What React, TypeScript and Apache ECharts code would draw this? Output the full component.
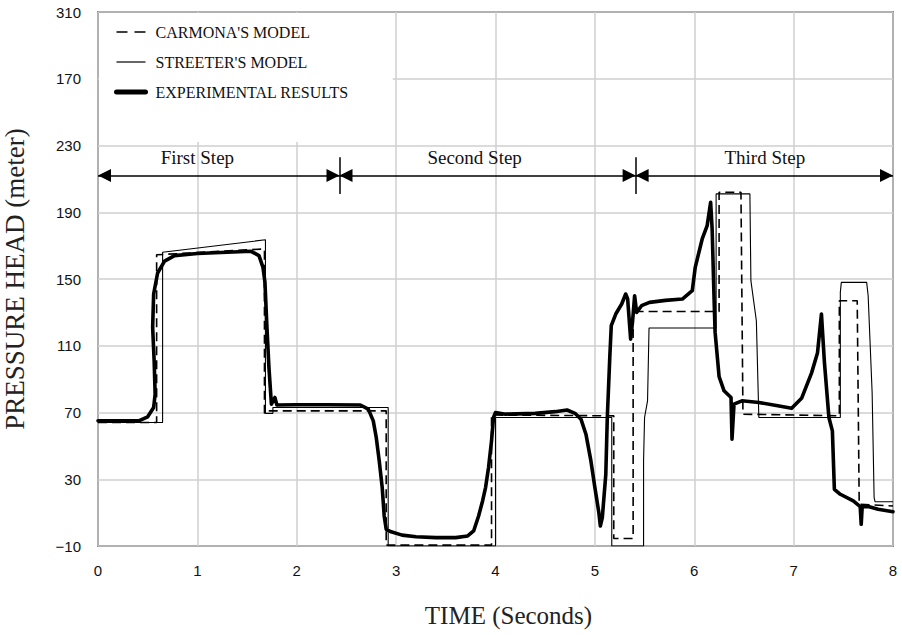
import React, { useEffect, useRef } from "react";
import * as echarts from "echarts";

// ---- data ----
const yTickLabels = ["−10", "30", "70", "110", "150", "190", "230", "170", "310"];
const seriesNames = ["CARMONA'S MODEL", "STREETER'S MODEL", "EXPERIMENTAL RESULTS"];

const carmona: [number, number][] = [
  [0, 64], [0.59, 64], [0.59, 164.5], [1.675, 168], [1.675, 69.5], [1.7, 71], [2.9, 71],
  [2.9, -9.5], [3.96, -9.5], [3.96, 68.5], [5.19, 68], [5.19, -5.5], [5.385, -5.5],
  [5.385, 130.5], [6.25, 130.5], [6.25, 202], [6.47, 202], [6.49, 69], [7.46, 68],
  [7.46, 137], [7.64, 137], [7.66, 15], [8, 14],
];

const streeter: [number, number][] = [
  [0, 64], [0.65, 64], [0.65, 166], [1.685, 173.5], [1.685, 69.5], [1.76, 69.5], [1.76, 73],
  [2.92, 73], [2.92, -10], [4.0, -10], [4.0, 67], [5.17, 67], [5.17, -10], [5.49, -10],
  [5.49, 41], [5.5, 67], [5.53, 77], [5.545, 120.6], [6.22, 120.6], [6.22, 201], [6.56, 201],
  [6.57, 149], [6.625, 125], [6.64, 90], [6.65, 67], [7.47, 67], [7.47, 142], [7.48, 148],
  [7.735, 148], [7.75, 140], [7.79, 82], [7.81, 19], [7.82, 16.5], [8, 16.5],
];

const experimental: [number, number][] = [
  [0, 65], [0.41, 65], [0.5, 67.4], [0.56, 73], [0.575, 81], [0.565, 101], [0.55, 121],
  [0.56, 141], [0.6, 153.6], [0.67, 160.7], [0.77, 164], [1.0, 165.3], [1.3, 166], [1.54, 166.6],
  [1.62, 164], [1.66, 157], [1.68, 148], [1.7, 121], [1.72, 97], [1.745, 75], [1.78, 79],
  [1.8, 74.5], [2.0, 74.6], [2.3, 74.6], [2.64, 74.5], [2.72, 72], [2.77, 65], [2.8, 55],
  [2.83, 41], [2.86, 25], [2.88, 8], [2.9, 0], [2.95, -1.5], [3.06, -3.5], [3.2, -4.5],
  [3.4, -5], [3.6, -5], [3.72, -4], [3.78, -1], [3.83, 8], [3.87, 17], [3.9, 25], [3.93, 37],
  [3.96, 53], [3.98, 67], [4.0, 70], [4.1, 69], [4.4, 69.5], [4.6, 70.5], [4.72, 71.5],
  [4.8, 69.5], [4.86, 66], [4.91, 57], [4.96, 41], [5.0, 25], [5.04, 10], [5.055, 2],
  [5.075, 7], [5.11, 33], [5.125, 67], [5.15, 103], [5.165, 122], [5.21, 129], [5.27, 135],
  [5.31, 141], [5.33, 138], [5.36, 114], [5.38, 125], [5.4, 140], [5.42, 130], [5.47, 134],
  [5.55, 136], [5.71, 137.2], [5.88, 138], [5.98, 143], [6.01, 157], [6.08, 174], [6.13, 182],
  [6.165, 196], [6.18, 180], [6.2, 137], [6.21, 118], [6.25, 91.5], [6.3, 83], [6.37, 79],
  [6.38, 54], [6.4, 75], [6.48, 77], [6.65, 76], [6.84, 74], [6.98, 72.5], [7.08, 78.5],
  [7.18, 93.6], [7.24, 105.6], [7.28, 129], [7.31, 100], [7.355, 67], [7.39, 59], [7.41, 24],
  [7.47, 21], [7.6, 17], [7.67, 13.6], [7.68, 3], [7.69, 13.6], [7.76, 13.5], [7.85, 12],
  [8, 10.5],
];

const stepNames = ["First Step", "Second Step", "Third Step"];
const stepLabelX = [1.0, 3.79, 6.71];
const stepBounds = [0, 2.43, 5.41, 8];
const stepLineY = 212;
const stepLabelY = 223;
const dividerY = [201, 223];

export default function App() {
  const ref = useRef<HTMLDivElement>(null);

  useEffect(() => {
    document.body.style.margin = "0";
    if (!ref.current) return;
    const chart = echarts.init(ref.current, null, { renderer: "svg" });

    const serif = "Liberation Serif";
    const arrowSegs = stepNames.map((_, i) => [
      { coord: [stepBounds[i], stepLineY] },
      { coord: [stepBounds[i + 1], stepLineY] },
    ]);
    const dividers = [stepBounds[1], stepBounds[2]].map((x) => [
      { coord: [x, dividerY[0]], symbol: "none" },
      { coord: [x, dividerY[1]], symbol: "none" },
    ]);

    chart.setOption({
      animation: false,
      backgroundColor: "#ffffff",
      grid: {
        left: 98,
        right: 9,
        top: 12,
        bottom: 89,
        outerBoundsMode: "none",
        show: true,
        borderColor: "#222",
        borderWidth: 1.5,
        backgroundColor: "transparent",
      },
      xAxis: {
        type: "value",
        min: 0,
        max: 8,
        interval: 1,
        name: "TIME (Seconds)",
        nameLocation: "middle",
        nameGap: 57,
        nameTextStyle: { fontFamily: serif, fontSize: 25, color: "#222", padding: [0, 0, 0, 26] },
        axisLine: { show: false },
        axisTick: { show: false },
        axisLabel: { fontFamily: "Liberation Sans", fontSize: 15, color: "#111", margin: 17 },
        splitLine: { show: true, lineStyle: { color: "#cfcfcf", width: 1.5 } },
      },
      yAxis: {
        type: "value",
        min: -10,
        max: 310,
        interval: 40,
        name: "PRESSURE HEAD (meter)",
        nameLocation: "middle",
        nameGap: 70,
        nameTextStyle: { fontFamily: serif, fontSize: 27, color: "#222" },
        axisLine: { show: false },
        axisTick: { show: false },
        axisLabel: {
          fontFamily: "Liberation Sans",
          fontSize: 15,
          color: "#111",
          margin: 17,
          formatter: (v: number) => yTickLabels[Math.round((v + 10) / 40)] ?? "",
        },
        splitLine: { show: true, lineStyle: { color: "#cfcfcf", width: 1.5 } },
      },
      legend: {
        orient: "vertical",
        left: 99,
        top: 13,
        z: 6,
        padding: [11, 44, 42, 15],
        backgroundColor: "#ffffff",
        itemWidth: 29,
        itemHeight: 14,
        itemGap: 14,
        selectedMode: false,
        textStyle: { fontFamily: serif, fontSize: 16, color: "#111", lineHeight: 16, padding: [0, 0, 0, 5] },
        itemStyle: { color: "rgba(0,0,0,0)", borderWidth: 0 },
        data: [
          { name: seriesNames[0], lineStyle: { type: [11, 7], width: 1.5, color: "#000" } },
          { name: seriesNames[1], lineStyle: { type: "solid", width: 1.2, color: "#000" } },
          { name: seriesNames[2], lineStyle: { type: "solid", width: 5, color: "#000" } },
        ],
      },
      series: [
        {
          name: seriesNames[0],
          type: "line",
          data: carmona,
          symbol: "none",
          z: 3,
          lineStyle: { color: "#000", width: 1.6, type: [9, 5] },
          itemStyle: { color: "#000" },
        },
        {
          name: seriesNames[1],
          type: "line",
          data: streeter,
          symbol: "none",
          z: 3,
          lineStyle: { color: "#000", width: 1.1, type: "solid" },
          itemStyle: { color: "#000" },
        },
        {
          name: seriesNames[2],
          type: "line",
          data: experimental,
          symbol: "none",
          z: 4,
          lineStyle: { color: "#000", width: 3.6, type: "solid", join: "round", cap: "round" },
          itemStyle: { color: "#000" },
        },
        {
          name: "steps",
          type: "line",
          data: [],
          symbol: "none",
          z: 5,
          markLine: {
            silent: true,
            animation: false,
            symbol: ["triangle", "triangle"],
            symbolSize: 13,
            symbolOffset: [[0, 6.5], [0, 6.5]],
            lineStyle: { color: "#000", width: 1.5, type: "solid" },
            label: { show: false },
            emphasis: { disabled: true },
            data: [...arrowSegs, ...dividers],
          },
          markPoint: {
            silent: true,
            animation: false,
            symbol: "rect",
            symbolSize: 1,
            itemStyle: { color: "rgba(0,0,0,0)" },
            label: {
              show: true,
              position: "inside",
              formatter: "{b}",
              fontFamily: serif,
              fontSize: 19,
              color: "#111",
            },
            data: stepNames.map((n, i) => ({ name: n, coord: [stepLabelX[i], stepLabelY] })),
          },
        },
      ],
    });

    return () => chart.dispose();
  }, []);

  return <div ref={ref} style={{ width: 902, height: 635 }} />;
}
